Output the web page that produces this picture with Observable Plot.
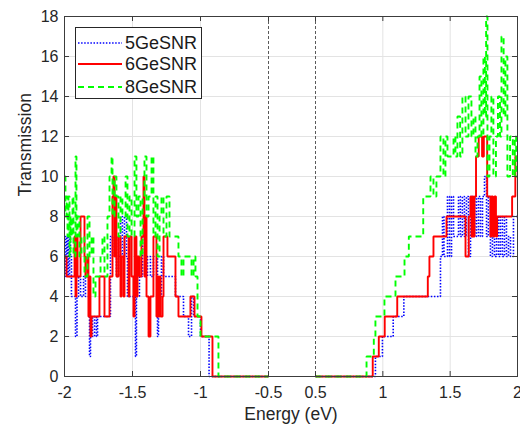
<!DOCTYPE html>
<html>
<head>
<meta charset="utf-8">
<script src="https://cdn.jsdelivr.net/npm/d3@7"></script>
<script src="https://cdn.jsdelivr.net/npm/@observablehq/plot@0.6"></script>
<style>
  html, body { margin: 0; padding: 0; background: #fff; }
  #wrap { position: relative; width: 520px; height: 425px; font-family: 'Liberation Sans', Arial, sans-serif; }
  #legend { position: absolute; left: 75px; top: 27px; width: 127px; height: 72px; border: 1px solid #262626; background: #fff; box-sizing: border-box; }
  .row { position: absolute; left: 2px; height: 22px; display: flex; align-items: center; font-size: 18px; color: #1a1a1a; }
  .row svg { margin-right: 3px; }
</style>
</head>
<body>
<div id="wrap"></div>
<script>
// ---- data (energy in eV, transmission), step-after breakpoints ----
const seriesNames = ["5GeSNR", "6GeSNR", "8GeSNR"];
const seriesColors = ["#0000ff", "#ff0000", "#00ff00"];

const blueLeft = [[-2.000,5],[-1.993,7],[-1.985,5],[-1.978,7],[-1.971,5],[-1.963,7],[-1.956,6],[-1.949,4],[-1.919,2],[-1.908,4],[-1.897,5],[-1.882,4],[-1.860,5],[-1.846,4],[-1.816,1],[-1.809,3],[-1.794,2],[-1.779,3],[-1.765,2],[-1.757,3],[-1.662,7],[-1.647,6],[-1.632,7],[-1.618,5],[-1.603,6],[-1.588,8],[-1.574,6],[-1.559,8],[-1.544,6],[-1.537,4],[-1.478,1],[-1.471,4],[-1.449,5],[-1.426,7],[-1.404,5],[-1.390,6],[-1.368,5],[-1.346,6],[-1.316,2],[-1.309,4],[-1.287,6],[-1.272,5],[-1.184,4],[-1.125,3],[-1.088,2],[-1.066,4],[-1.051,3],[-1.000,2],[-0.937,0],[-0.5,0]];
const blueRight = [[0.5,0],[0.945,1],[0.997,2],[1.077,3],[1.156,4],[1.428,6],[1.443,8],[1.454,6],[1.480,9],[1.495,6],[1.510,9],[1.525,7],[1.562,9],[1.576,7],[1.591,9],[1.606,7],[1.621,9],[1.636,6],[1.651,9],[1.666,7],[1.681,9],[1.695,7],[1.710,9],[1.725,7],[1.740,9],[1.755,10],[1.770,7],[1.784,9],[1.799,6],[1.814,7],[1.829,6],[1.844,8],[1.859,6],[1.873,8],[1.888,6],[1.903,8],[1.918,6],[1.933,7],[1.948,6],[1.970,8],[2.0,8]];

const redLeft = [[-2.000,6],[-1.985,5],[-1.926,7],[-1.919,4],[-1.912,7],[-1.904,5],[-1.882,8],[-1.853,6],[-1.846,5],[-1.831,6],[-1.824,3],[-1.816,5],[-1.809,2],[-1.801,3],[-1.743,5],[-1.706,3],[-1.669,5],[-1.647,9],[-1.640,10],[-1.632,6],[-1.625,9],[-1.618,5],[-1.603,7],[-1.588,4],[-1.581,6],[-1.566,4],[-1.559,7],[-1.529,4],[-1.522,7],[-1.507,5],[-1.493,3],[-1.485,7],[-1.471,4],[-1.463,6],[-1.449,5],[-1.434,7],[-1.419,10],[-1.412,5],[-1.404,8],[-1.397,4],[-1.382,2],[-1.368,4],[-1.346,7],[-1.324,3],[-1.316,5],[-1.309,3],[-1.301,5],[-1.294,3],[-1.279,4],[-1.272,7],[-1.243,6],[-1.184,4],[-1.162,3],[-1.074,4],[-1.044,3],[-0.993,2],[-0.912,0],[-0.5,0]];
const redRight = [[0.5,0],[0.925,1],[0.970,2],[1.014,3],[1.107,4],[1.334,5],[1.346,6],[1.376,7],[1.473,8],[1.614,6],[1.638,8],[1.651,9],[1.658,7],[1.666,9],[1.673,7],[1.681,9],[1.692,11],[1.712,12],[1.737,11],[1.750,12],[1.775,9],[1.799,7],[1.806,9],[1.818,7],[1.829,9],[1.840,7],[1.849,8],[1.960,9],[1.984,11],[2.0,11]];

const greenLeft = [[-2.000,10],[-1.993,8],[-1.985,9],[-1.978,7],[-1.971,9],[-1.963,6],[-1.956,8],[-1.949,7],[-1.941,9],[-1.934,6],[-1.919,11],[-1.912,7],[-1.904,8],[-1.890,6],[-1.875,7],[-1.853,5],[-1.831,8],[-1.816,6],[-1.801,7],[-1.787,4],[-1.772,5],[-1.735,6],[-1.721,7],[-1.706,5],[-1.684,8],[-1.669,10],[-1.654,11],[-1.647,8],[-1.632,10],[-1.618,9],[-1.603,7],[-1.588,9],[-1.574,8],[-1.551,10],[-1.537,7],[-1.522,9],[-1.507,7],[-1.485,11],[-1.471,8],[-1.456,9],[-1.441,6],[-1.426,9],[-1.412,11],[-1.397,8],[-1.382,9],[-1.360,11],[-1.346,7],[-1.331,9],[-1.316,6],[-1.301,8],[-1.287,9],[-1.272,7],[-1.250,9],[-1.228,7],[-1.162,6],[-1.140,5],[-1.125,6],[-1.066,5],[-1.051,6],[-1.037,5],[-1.022,3],[-1.000,2],[-0.868,0],[-0.5,0]];
const greenRight = [[0.5,0],[0.879,1],[0.933,2],[0.945,3],[1.012,4],[1.094,5],[1.161,6],[1.193,7],[1.300,9],[1.354,10],[1.376,9],[1.398,10],[1.428,12],[1.450,10],[1.465,12],[1.480,11],[1.525,12],[1.539,11],[1.554,13],[1.574,11],[1.591,14],[1.614,12],[1.636,14],[1.658,12],[1.673,13],[1.688,11],[1.703,12],[1.718,15],[1.732,12],[1.747,16],[1.758,13],[1.767,18],[1.777,10],[1.792,12],[1.806,14],[1.821,10],[1.840,12],[1.855,14],[1.870,12],[1.881,17],[1.897,13],[1.910,16],[1.925,10],[1.945,12],[1.965,10],[1.980,12],[1.990,10],[2.0,10]];

const xTicks = [-2, -1.5, -1, -0.5, 0.5, 1, 1.5, 2];
const xGrid = [-1.5, -1, 1, 1.5];
const breakLines = [-0.5, 0.5];
const yTicks = [0, 2, 4, 6, 8, 10, 12, 14, 16, 18];

// ---- build records ----
function rec(name, seg, pairs) { return pairs.map(([E, T]) => ({series: name, seg, E, T})); }
const segs = [
  [blueLeft, blueRight],
  [redLeft, redRight],
  [greenLeft, greenRight]
];
const dash = [ "1.5,1.6", null, "6,4" ];
const widths = [1.6, 1.9, 1.9];

const lineMarks = segs.map(([L, R], i) => Plot.line(
  [...rec(seriesNames[i], "L", L), ...rec(seriesNames[i], "R", R)],
  {x: "E", y: "T", z: "seg", curve: "step-after", stroke: seriesColors[i],
   strokeWidth: widths[i], strokeDasharray: dash[i] || undefined, strokeLinejoin: "miter", strokeLinecap: "butt"}
));

const W = 520, H = 425, mL = 64, mR = 3, mT = 16, mB = 49;
const plotH = H - mT - mB, plotW = W - mL - mR;

const chart = Plot.plot({
  width: W, height: H,
  marginLeft: mL, marginRight: mR, marginTop: mT, marginBottom: mB,
  style: {fontFamily: "'Liberation Sans', Arial, sans-serif", fontSize: "16px", color: "#262626", background: "#fff"},
  x: {type: "linear", domain: [-2, -0.5, 0.5, 2], range: [mL, 268, 315, W - mR]},
  y: {domain: [0, 18]},
  marks: [
    Plot.gridX(xGrid, {stroke: "#e3e3e3", strokeOpacity: 1}),
    Plot.gridY(yTicks, {stroke: "#e3e3e3", strokeOpacity: 1}),
    Plot.ruleX(breakLines, {stroke: "#5a5a5a", strokeDasharray: "3,2", strokeWidth: 1}),
    ...lineMarks,
    Plot.frame({stroke: "#3c3c3c", strokeWidth: 1}),
    Plot.tickX(xTicks, {x: d => d, insetTop: plotH - 5, stroke: "#3c3c3c"}),
    Plot.tickX(xTicks, {x: d => d, insetBottom: plotH - 5, stroke: "#3c3c3c"}),
    Plot.tickY(yTicks, {y: d => d, insetRight: plotW - 5, stroke: "#3c3c3c"}),
    Plot.tickY(yTicks, {y: d => d, insetLeft: plotW - 5, stroke: "#3c3c3c"}),
    Plot.axisX({ticks: xTicks, tickFormat: d => String(d), tickSize: 0, tickPadding: 10, label: null, fontSize: 16}),
    Plot.axisY({ticks: yTicks, tickFormat: d => String(d), tickSize: 0, tickPadding: 6, label: null, fontSize: 16}),
    Plot.text(["Energy (eV)"], {text: d => d, frameAnchor: "bottom", lineAnchor: "middle", dy: 38, fontSize: 17.5, fill: "#262626"}),
    Plot.text(["Transmission"], {text: d => d, frameAnchor: "left", lineAnchor: "middle", dx: -39, rotate: -90, fontSize: 17.5, fill: "#262626"})
  ]
});

const wrap = document.getElementById("wrap");
wrap.appendChild(chart);

// ---- legend (HTML overlay inside axes) ----
const legend = document.createElement("div");
legend.id = "legend";
const rowTops = [4, 25, 48];
seriesNames.forEach((name, i) => {
  const row = document.createElement("div");
  row.className = "row";
  row.style.top = rowTops[i] + "px";
  row.innerHTML = `<svg width="44" height="10"><line x1="0" x2="44" y1="5" y2="5" stroke="${seriesColors[i]}" stroke-width="${widths[i]}" ${dash[i] ? `stroke-dasharray="${dash[i]}"` : ""}/></svg><span>${name}</span>`;
  legend.appendChild(row);
});
wrap.appendChild(legend);
</script>
</body>
</html>
